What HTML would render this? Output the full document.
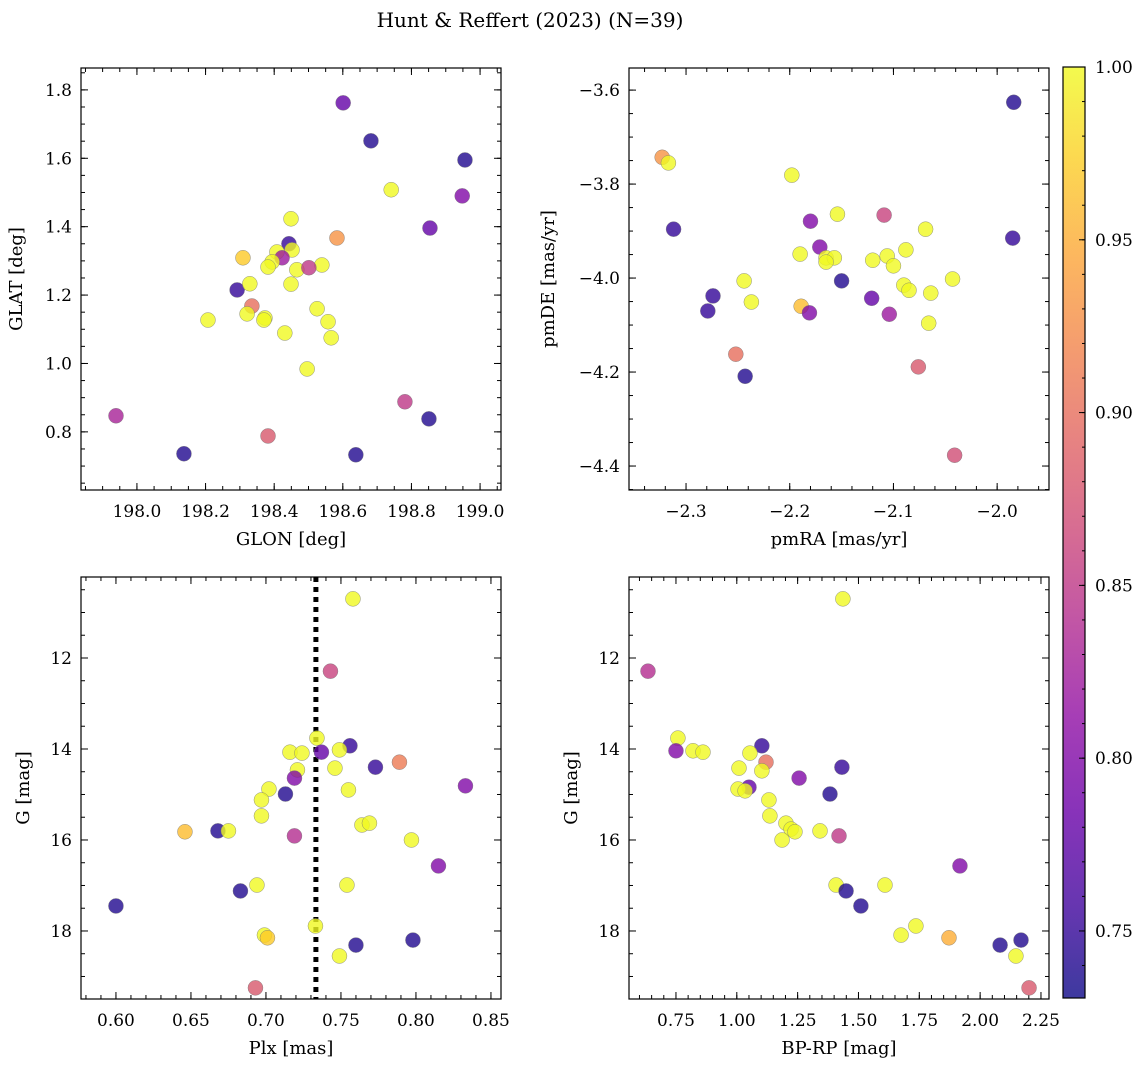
<!DOCTYPE html>
<html><head><meta charset="utf-8">
<style>
html,body{margin:0;padding:0;background:#fff;}
svg{display:block;font-family:"DejaVu Serif","Liberation Serif",serif;}
</style></head>
<body>
<svg id="fig" width="1148" height="1067" viewBox="0 0 1148 1067" xmlns="http://www.w3.org/2000/svg">
<defs>
<linearGradient id="cbgrad" x1="0" y1="1" x2="0" y2="0">
<stop offset="0" stop-color="#0d0887"/><stop offset="0.1" stop-color="#41049d"/><stop offset="0.2" stop-color="#6a00a8"/><stop offset="0.3" stop-color="#8f0da4"/><stop offset="0.4" stop-color="#b12a90"/><stop offset="0.5" stop-color="#cc4778"/><stop offset="0.6" stop-color="#e16462"/><stop offset="0.7" stop-color="#f2844b"/><stop offset="0.8" stop-color="#fca636"/><stop offset="0.9" stop-color="#fcce25"/><stop offset="1" stop-color="#f0f921"/>
</linearGradient>
</defs>
<text x="530" y="27" font-size="20" text-anchor="middle">Hunt &amp; Reffert (2023) (N=39)</text>
</svg>
<script>
// ---- data ----
const p1Glon = [198.601,198.682,198.956,198.741,198.948,198.854,198.583,198.449,198.309,198.443,198.452,198.408,198.423,198.394,198.382,198.466,198.539,198.501,198.292,198.329,198.449,198.335,198.321,198.373,198.370,198.525,198.557,198.566,198.431,198.207,198.496,198.781,198.851,197.939,198.382,198.137,198.638];
const p1Glat = [1.762,1.651,1.595,1.508,1.490,1.396,1.367,1.423,1.309,1.350,1.332,1.326,1.309,1.297,1.282,1.274,1.288,1.280,1.215,1.233,1.232,1.168,1.145,1.133,1.127,1.160,1.122,1.075,1.089,1.127,0.984,0.888,0.838,0.847,0.788,0.736,0.733];
const p1Prob = [0.78,0.74,0.74,1.0,0.80,0.78,0.93,1.0,0.97,0.75,1.0,1.0,0.82,1.0,1.0,1.0,1.0,0.85,0.75,1.0,1.0,0.90,1.0,1.0,1.0,1.0,1.0,1.0,1.0,1.0,1.0,0.85,0.74,0.83,0.88,0.74,0.74];

const p2PmRA = [-1.984,-2.323,-2.317,-2.198,-2.312,-2.154,-2.180,-2.109,-1.985,-2.069,-2.171,-2.190,-2.165,-2.157,-2.165,-2.088,-2.106,-2.120,-2.100,-2.244,-2.150,-2.043,-2.090,-2.085,-2.064,-2.274,-2.121,-2.237,-2.189,-2.279,-2.181,-2.104,-2.066,-2.252,-2.243,-2.076,-2.041];
const p2PmDE = [-3.626,-3.743,-3.755,-3.781,-3.896,-3.864,-3.879,-3.866,-3.915,-3.896,-3.934,-3.949,-3.957,-3.957,-3.966,-3.940,-3.953,-3.962,-3.974,-4.006,-4.006,-4.002,-4.015,-4.026,-4.032,-4.038,-4.043,-4.051,-4.060,-4.070,-4.074,-4.077,-4.096,-4.162,-4.209,-4.189,-4.377];
const p2Prob = [0.74,0.93,1.0,1.0,0.75,1.0,0.80,0.86,0.75,1.0,0.80,1.0,1.0,1.0,1.0,1.0,1.0,1.0,1.0,1.0,0.74,1.0,1.0,1.0,1.0,0.75,0.78,1.0,0.96,0.75,0.80,0.82,1.0,0.90,0.74,0.88,0.87];

const p3Plx = [0.758,0.743,0.734,0.756,0.749,0.737,0.716,0.724,0.773,0.746,0.789,0.721,0.719,0.755,0.702,0.713,0.833,0.697,0.764,0.769,0.697,0.646,0.668,0.675,0.797,0.719,0.815,0.754,0.694,0.683,0.600,0.699,0.701,0.733,0.760,0.798,0.749,0.693];
const p3G = [10.70,12.29,13.76,13.93,14.02,14.07,14.07,14.09,14.40,14.42,14.29,14.46,14.64,14.90,14.88,14.99,14.81,15.12,15.67,15.63,15.47,15.82,15.80,15.80,16.00,15.91,16.57,16.99,16.99,17.12,17.45,18.09,18.15,17.89,18.31,18.20,18.55,19.25];
const p3Prob = [1.0,0.86,1.0,0.75,1.0,0.78,1.0,1.0,0.75,1.0,0.91,1.0,0.80,1.0,1.0,0.74,0.80,1.0,1.0,1.0,1.0,0.96,0.74,1.0,1.0,0.84,0.80,1.0,1.0,0.74,0.74,1.0,0.97,1.0,0.74,0.74,1.0,0.88];
const plxRef = 0.7333;

const p4Bprp = [0.635,1.436,0.758,0.750,0.820,0.861,1.103,1.054,1.009,1.120,1.103,1.432,1.256,1.050,1.005,1.034,1.383,1.132,1.136,1.202,1.223,1.239,1.342,1.186,1.420,1.917,1.408,1.609,1.449,1.510,1.675,1.736,1.872,2.082,2.168,2.147,2.201];
const p4G = [12.29,10.70,13.76,14.04,14.04,14.07,13.93,14.09,14.42,14.29,14.48,14.40,14.64,14.84,14.88,14.92,14.99,15.12,15.47,15.63,15.76,15.82,15.80,16.00,15.91,16.57,16.99,16.99,17.12,17.45,18.09,17.89,18.15,18.31,18.20,18.55,19.25];
const p4Prob = [0.84,1.0,1.0,0.80,1.0,1.0,0.75,1.0,1.0,0.90,1.0,0.75,0.80,0.78,1.0,1.0,0.74,1.0,1.0,1.0,1.0,1.0,1.0,1.0,0.85,0.80,1.0,1.0,0.74,0.74,1.0,1.0,0.95,0.74,0.74,1.0,0.88];

const cbTicks = [0.75,0.80,0.85,0.90,0.95,1.00];
const vmin = 0.7306, vmax = 1.0;

// ---- helpers ----
const NS = "http://www.w3.org/2000/svg";
const svg = document.getElementById('fig');
function mk(tag, attrs, parent){
  const e = document.createElementNS(NS, tag);
  for (const k in attrs) e.setAttribute(k, attrs[k]);
  (parent||svg).appendChild(e);
  return e;
}
const stops = ["#0d0887","#41049d","#6a00a8","#8f0da4","#b12a90","#cc4778","#e16462","#f2844b","#fca636","#fcce25","#f0f921"];
function hex(h){return [parseInt(h.substr(1,2),16),parseInt(h.substr(3,2),16),parseInt(h.substr(5,2),16)];}
function cmap(v){
  let t = (v - vmin)/(vmax - vmin); t = Math.max(0, Math.min(1, t));
  const f = t*10, i = Math.min(9, Math.floor(f)), r = f - i;
  const a = hex(stops[i]), b = hex(stops[i+1]);
  return 'rgb('+a.map((c,j)=>Math.round(c+(b[j]-c)*r)).join(',')+')';
}
function fmt(v, d){ const s = Math.abs(v).toFixed(d); return (v < -1e-9 ? '\u2212' : '') + s; }

function panel(cfg){
  const g = mk('g', {});
  
  
  const {x0,x1,y0,y1,xmin,xmax,ymin,ymax,inv} = cfg;
  const sx = v => x0 + (v - xmin)/(xmax - xmin)*(x1 - x0);
  const sy = inv ? (v => y0 + (v - ymin)/(ymax - ymin)*(y1 - y0)) : (v => y1 - (v - ymin)/(ymax - ymin)*(y1 - y0));
  const tg = mk('g', {stroke:'#000','stroke-width':1}, g);
  function ticksX(step, len, labels, dec){
    const start = Math.ceil(xmin/step - 1e-6);
    for (let k = start; k*step <= xmax + 1e-9; k++){
      const v = k*step, x = sx(v);
      mk('line', {x1:x,y1:y1,x2:x,y2:y1-len}, tg);
      mk('line', {x1:x,y1:y0,x2:x,y2:y0+len}, tg);
      if (labels){
        const t = mk('text', {x:x, y:y1+27, 'font-size':17, 'text-anchor':'middle', stroke:'none', fill:'#000'}, g);
        t.textContent = fmt(v, dec);
        
        
      }
    }
  }
  function ticksY(step, len, labels, dec){
    const lo = Math.min(ymin,ymax), hi = Math.max(ymin,ymax);
    const start = Math.ceil(lo/step - 1e-6);
    for (let k = start; k*step <= hi + 1e-9; k++){
      const v = k*step, y = sy(v);
      mk('line', {x1:x0,y1:y,x2:x0+len,y2:y}, tg);
      mk('line', {x1:x1,y1:y,x2:x1-len,y2:y}, tg);
      if (labels){
        const t = mk('text', {x:x0-9, y:y+6, 'font-size':17, 'text-anchor':'end', stroke:'none', fill:'#000'}, g);
        t.textContent = fmt(v, dec);
        
        
      }
    }
  }
  ticksX(cfg.xminor, 4, false); ticksX(cfg.xmajor, 7, true, cfg.xdec);
  ticksY(cfg.yminor, 4, false); ticksY(cfg.ymajor, 7, true, cfg.ydec);
  const cid = 'clip-' + cfg.name;
  const cp = mk('clipPath', {id:cid}, g);
  mk('rect', {x:x0,y:y0,width:x1-x0,height:y1-y0}, cp);
  const pg = mk('g', {'clip-path':'url(#'+cid+')'}, g);
  if (cfg.vline !== undefined){
    const l = mk('line', {x1:sx(cfg.vline), x2:sx(cfg.vline), y1:y0, y2:y1, stroke:'#000','stroke-width':5,'stroke-dasharray':'5,5'}, pg);
    
    
  }
  for (let i = 0; i < cfg.xs.length; i++){
    const c = mk('circle', {cx:sx(cfg.xs[i]), cy:sy(cfg.ys[i]), r:7.5, fill:cmap(cfg.ps[i]), 'fill-opacity':0.8, stroke:'#777','stroke-width':0.5,'stroke-opacity':0.8}, pg);
    
    
  }
  mk('rect', {x:x0,y:y0,width:x1-x0,height:y1-y0,fill:'none',stroke:'#000','stroke-width':1.2}, g);
  const xl = mk('text', {x:(x0+x1)/2, y:y1+55, 'font-size':18, 'text-anchor':'middle'}, g);
  xl.textContent = cfg.xlabel;
  
  
  const yl = mk('text', {x:0, y:0, 'font-size':18, 'text-anchor':'middle', transform:'translate('+cfg.ylx+','+((y0+y1)/2)+') rotate(-90)'}, g);
  yl.textContent = cfg.ylabel;
  
  
}

panel({name:'glon-glat-panel', x0:81,x1:501,y0:68,y1:490, xmin:197.837,xmax:199.061, ymin:0.630,ymax:1.864,
  xmajor:0.2,xminor:0.05,xdec:1, ymajor:0.2,yminor:0.05,ydec:1, xs:p1Glon, ys:p1Glat, ps:p1Prob,
  xlabel:'GLON [deg]', ylabel:'GLAT [deg]', ylx:22});
panel({name:'proper-motion-panel', x0:629,x1:1049,y0:68,y1:490, xmin:-2.355,xmax:-1.950, ymin:-4.451,ymax:-3.553,
  xmajor:0.1,xminor:0.02,xdec:1, ymajor:0.2,yminor:0.05,ydec:1, xs:p2PmRA, ys:p2PmDE, ps:p2Prob,
  xlabel:'pmRA [mas/yr]', ylabel:'pmDE [mas/yr]', ylx:554});
panel({name:'parallax-mag-panel', x0:81,x1:501,y0:577,y1:999, xmin:0.5767,xmax:0.8567, ymin:10.22,ymax:19.495, inv:true,
  xmajor:0.05,xminor:0.01,xdec:2, ymajor:2,yminor:0.5,ydec:0, xs:p3Plx, ys:p3G, ps:p3Prob, vline:plxRef,
  xlabel:'Plx [mas]', ylabel:'G [mag]', ylx:29});
panel({name:'color-mag-panel', x0:629,x1:1049,y0:577,y1:999, xmin:0.557,xmax:2.283, ymin:10.22,ymax:19.495, inv:true,
  xmajor:0.25,xminor:0.05,xdec:2, ymajor:2,yminor:0.5,ydec:0, xs:p4Bprp, ys:p4G, ps:p4Prob,
  xlabel:'BP-RP [mag]', ylabel:'G [mag]', ylx:577});

// ---- colorbar ----
const cb = mk('g', {});


const cbx0 = 1063, cbx1 = 1085, cby0 = 67, cby1 = 998;
mk('rect', {x:cbx0,y:cby0,width:cbx1-cbx0,height:cby1-cby0,fill:'url(#cbgrad)','fill-opacity':0.8}, cb);
const cy = v => cby1 - (v - vmin)/(vmax - vmin)*(cby1 - cby0);
for (let k = Math.ceil(vmin/0.01); k*0.01 <= vmax + 1e-9; k++){
  const y = cy(k*0.01);
  mk('line', {x1:cbx1, x2:cbx1-3, y1:y, y2:y, stroke:'#000','stroke-width':1}, cb);
}
cbTicks.forEach(v => {
  const y = cy(v);
  mk('line', {x1:cbx1, x2:cbx1-6, y1:y, y2:y, stroke:'#000','stroke-width':1}, cb);
  const t = mk('text', {x:cbx1+10, y:y+6, 'font-size':17}, cb);
  t.textContent = v.toFixed(2);
  
  
});
mk('rect', {x:cbx0,y:cby0,width:cbx1-cbx0,height:cby1-cby0,fill:'none',stroke:'#000','stroke-width':1.2}, cb);
</script>
</body></html>
